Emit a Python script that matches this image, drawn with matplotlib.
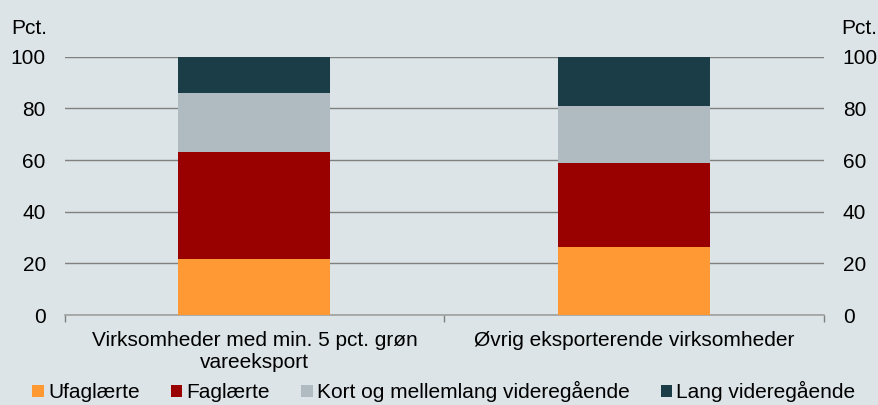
import numpy as np
import matplotlib
matplotlib.use('Agg')
import matplotlib.pyplot as plt
from matplotlib.patches import Patch

plt.rcParams['font.family'] = ['Liberation Sans', 'DejaVu Sans']

categories = ['Virksomheder med min. 5 pct. grøn\nvareeksport', 'Øvrig eksporterende virksomheder']
series_names = ['Ufaglærte', 'Faglærte', 'Kort og mellemlang videregående', 'Lang videregående']
ufaglaerte = [21.8, 26.3]
faglaerte = [41.2, 32.7]
kort_mellemlang = [23.1, 21.8]
lang = [13.9, 19.2]
colors = ['#FF9933', '#990000', '#B0BBC1', '#1B3D48']
y_ticks = [0, 20, 40, 60, 80, 100]

bg = '#DCE4E7'
fs = 15
fig = plt.figure(figsize=(8.79, 4.05), dpi=100, facecolor=bg)
ax = fig.add_axes([0.0734, 0.222, 0.864, 0.638], facecolor=bg)

x = np.arange(len(categories))
bottom = np.zeros(len(categories))
for vals, col in zip([ufaglaerte, faglaerte, kort_mellemlang, lang], colors):
    ax.bar(x, vals, width=0.4, bottom=bottom, color=col, zorder=3)
    bottom += np.array(vals)

ax.set_xlim(-0.5, 1.5)
ax.set_ylim(0, 100)
ax.set_yticks(y_ticks)
ax.yaxis.grid(True, color='#808080', linewidth=1.0, zorder=0)
for s in ['left', 'right', 'top']:
    ax.spines[s].set_visible(False)
ax.spines['bottom'].set_color('#A0A0A0')
ax.spines['bottom'].set_linewidth(1.2)
ax.tick_params(axis='y', length=0, labelsize=fs, pad=13.5)

# category labels and separator ticks
ax.set_xticks([-0.5, 0.5, 1.5])
ax.set_xticklabels([])
ax.tick_params(axis='x', length=5, color='#808080', width=1)
for xi, lab in zip(x, categories):
    ax.text(xi, -6.0, lab, ha='center', va='top', fontsize=fs, linespacing=1.2)

ax2 = ax.twinx()
ax2.set_ylim(0, 100)
ax2.set_yticks(y_ticks)
for s in ['left', 'right', 'top', 'bottom']:
    ax2.spines[s].set_visible(False)
ax2.tick_params(axis='y', length=0, labelsize=fs, pad=13.5)

fig.text(0.0125, 0.93, 'Pct.', fontsize=fs, ha='left', va='center')
fig.text(0.998, 0.93, 'Pct.', fontsize=fs, ha='right', va='center')

handles = [Patch(facecolor=c, edgecolor='none') for c in colors]
fig.legend(handles, series_names, loc='lower center', bbox_to_anchor=(0.505, -0.04),
           ncol=4, frameon=False, fontsize=fs, handlelength=0.55, handleheight=0.55,
           handletextpad=0.2, columnspacing=1.5)

fig.savefig('out.png', dpi=100, facecolor=bg)
